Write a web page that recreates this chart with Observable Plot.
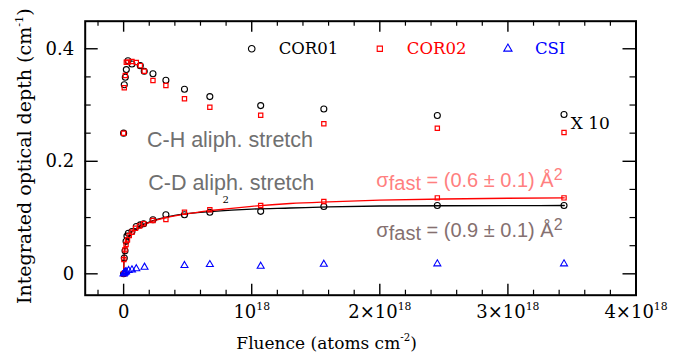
<!DOCTYPE html>
<html>
<head>
<meta charset="utf-8">
<script src="https://cdn.jsdelivr.net/npm/d3@7"></script>
<script src="https://cdn.jsdelivr.net/npm/@observablehq/plot@0.6"></script>
<style>
  html, body { margin: 0; padding: 0; background: #fff; }
  #chart { width: 691px; height: 358px; }
</style>
</head>
<body>
<div id="chart"></div>
<script>
// ---------- DATA (fluence in units of 1e18 atoms cm^-2) ----------
// C-H aliphatic stretch (x10), COR01
const chFluenceCOR01 = [0, 0.005, 0.013, 0.021, 0.034, 0.065, 0.13, 0.161, 0.229, 0.33, 0.475, 0.673, 1.07, 1.563, 2.449, 3.438];
const chDepthCOR01   = [0.25, 0.336, 0.3495, 0.363, 0.3787, 0.373, 0.370, 0.360, 0.3556, 0.344, 0.328, 0.315, 0.299, 0.293, 0.2814, 0.2832];
// C-H aliphatic stretch (x10), COR02
const chFluenceCOR02 = [0, 0.005, 0.013, 0.021, 0.034, 0.065, 0.099, 0.13, 0.161, 0.229, 0.33, 0.475, 0.673, 1.07, 1.563, 2.449, 3.438];
const chDepthCOR02   = [0.25, 0.3307, 0.3525, 0.376, 0.376, 0.3774, 0.3757, 0.370, 0.360, 0.3437, 0.3348, 0.311, 0.296, 0.282, 0.2667, 0.2589, 0.2512];
// C-D aliphatic stretch, COR01
const cdFluenceCOR01 = [0, 0.005, 0.011, 0.019, 0.026, 0.037, 0.065, 0.099, 0.13, 0.156, 0.229, 0.33, 0.475, 0.673, 1.07, 1.563, 2.449, 3.438];
const cdDepthCOR01   = [0, 0.028, 0.041, 0.058, 0.067, 0.072, 0.075, 0.084, 0.087, 0.089, 0.096, 0.105, 0.105, 0.1095, 0.111, 0.1196, 0.1214, 0.1214];
// C-D aliphatic stretch, COR02
const cdFluenceCOR02 = [0, 0.002, 0.011, 0.019, 0.03, 0.044, 0.065, 0.093, 0.125, 0.156, 0.229, 0.33, 0.475, 0.673, 1.07, 1.563, 2.449, 3.438];
const cdDepthCOR02   = [0, 0.0254, 0.0427, 0.052, 0.0604, 0.068, 0.074, 0.081, 0.085, 0.089, 0.0948, 0.0965, 0.1095, 0.1138, 0.1214, 0.1285, 0.135, 0.135];
// CSI
const fluenceCSI = [0, 0.003, 0.008, 0.013, 0.019, 0.039, 0.065, 0.099, 0.163, 0.475, 0.673, 1.07, 1.563, 2.449, 3.438];
const depthCSI   = [0, 0.001, 0.002, 0.003, 0.004, 0.006, 0.007, 0.009, 0.0118, 0.0148, 0.0165, 0.0135, 0.017, 0.0178, 0.0178];
// Fit curves
const fitFluence   = [0, 0.002, 0.005, 0.01, 0.02, 0.04, 0.07, 0.1, 0.15, 0.2, 0.3, 0.4, 0.5, 0.7, 1.0, 1.3, 1.6, 2.0, 2.5, 3.0, 3.44];
const fitDepthCOR01 = [0, 0.02, 0.033, 0.045, 0.057, 0.068, 0.076, 0.081, 0.087, 0.092, 0.099, 0.104, 0.107, 0.111, 0.115, 0.117, 0.119, 0.1205, 0.121, 0.1213, 0.1214];
const fitDepthCOR02 = [0, 0.02, 0.032, 0.044, 0.056, 0.067, 0.075, 0.08, 0.086, 0.091, 0.098, 0.103, 0.107, 0.113, 0.120, 0.125, 0.128, 0.131, 0.133, 0.1343, 0.135];

// Legend
const legendLabels  = ["COR01", "COR02", "CSI"];
const legendColors  = ["#000000", "#ff0000", "#0000ff"];
const legendSymbols = ["circle", "square", "triangle"];
const legendFluence = [1, 2, 3];
const legendDepth   = 0.4;

// Annotations
const annotTexts  = ["C-H aliph. stretch", "C-D aliph. stretch"];
const annotFluence = [0.182, 0.192];
const annotDepth   = [0.2373, 0.1616];
const sigmaTexts   = ["σ_{fast} = (0.6 ± 0.1) Å^{2}", "σ_{fast} = (0.9 ± 0.1) Å^{2}"];
const sigmaColors  = ["#ff7f7f", "#857070"];
const sigmaFluence = [1.973, 1.973];
const sigmaDepth   = [0.1653, 0.0764];
const scaleNote = "X 10", scaleNoteFluence = 3.49, scaleNoteDepth = 0.2674;
const stray = "2", strayFluence = 0.797, strayDepth = 0.132;

// Axes
const xMajor = [0, 1, 2, 3, 4];
const xMinor = d3.range(-0.2, 4.0, 0.2).filter(v => Math.abs(v - Math.round(v)) > 1e-6);
const xTickLabels = ["0", "10^{18}", "2×10^{18}", "3×10^{18}", "4×10^{18}"];
const yMajor = [0, 0.2, 0.4];
const yMinor = [0.05, 0.1, 0.15, 0.25, 0.3, 0.35];
const yTickLabels = ["0", "0.2", "0.4"];
const xTitle = "Fluence (atoms cm^{-2})";
const yTitle = "Integrated optical depth (cm^{-1})";

// ---------- BUILD ----------
const W = 691, H = 358;
const mL = 84.7, mR = 55.5, mT = 20.7, mB = 63.3;
const FW = W - mL - mR, FH = H - mT - mB;
const serif = "DejaVu Serif";
const sans = "Liberation Sans";
const zip = (xs, ys) => xs.map((x, i) => ({x, y: ys[i]}));

const plot = Plot.plot({
  width: W, height: H,
  marginLeft: mL, marginRight: mR, marginTop: mT, marginBottom: mB,
  x: {domain: [-0.3, 4], axis: null},
  y: {domain: [-0.038, 0.449], axis: null},
  style: {background: "white", overflow: "visible"},
  marks: [
    // fits
    Plot.line(zip(fitFluence, fitDepthCOR01), {x: "x", y: "y", stroke: "#000", strokeWidth: 1.3, curve: "monotone-x"}),
    Plot.line(zip(fitFluence, fitDepthCOR02), {x: "x", y: "y", stroke: "#ff0000", strokeWidth: 1.3, curve: "monotone-x"}),
    // points
    Plot.dot(zip(chFluenceCOR01, chDepthCOR01), {x: "x", y: "y", symbol: "circle", r: 3, stroke: "#000", strokeWidth: 1.1, fill: "none"}),
    Plot.dot(zip(cdFluenceCOR01, cdDepthCOR01), {x: "x", y: "y", symbol: "circle", r: 3, stroke: "#000", strokeWidth: 1.1, fill: "none"}),
    Plot.dot(zip(chFluenceCOR02, chDepthCOR02), {x: "x", y: "y", symbol: "square", r: 2.4, stroke: "#ff0000", strokeWidth: 1.2, fill: "none"}),
    Plot.dot(zip(cdFluenceCOR02, cdDepthCOR02), {x: "x", y: "y", symbol: "square", r: 2.4, stroke: "#ff0000", strokeWidth: 1.2, fill: "none"}),
    Plot.dot(zip(fluenceCSI, depthCSI), {x: "x", y: "y", symbol: "triangle", r: 2.6, stroke: "#0000ff", strokeWidth: 1.1, fill: "none"}),
    // frame & ticks
    Plot.frame({stroke: "#000", strokeWidth: 2}),
    Plot.tickX(xMajor, {x: d => d, insetTop: FH - 11, stroke: "#000", strokeWidth: 1.4}),
    Plot.tickX(xMajor, {x: d => d, insetBottom: FH - 11, stroke: "#000", strokeWidth: 1.4}),
    Plot.tickX(xMinor, {x: d => d, insetTop: FH - 5, stroke: "#000", strokeWidth: 1.2}),
    Plot.tickX(xMinor, {x: d => d, insetBottom: FH - 5, stroke: "#000", strokeWidth: 1.2}),
    Plot.tickY(yMajor, {y: d => d, insetRight: FW - 13, stroke: "#000", strokeWidth: 1.4}),
    Plot.tickY(yMajor, {y: d => d, insetLeft: FW - 13, stroke: "#000", strokeWidth: 1.4}),
    Plot.tickY(yMinor, {y: d => d, insetRight: FW - 6, stroke: "#000", strokeWidth: 1.2}),
    Plot.tickY(yMinor, {y: d => d, insetLeft: FW - 6, stroke: "#000", strokeWidth: 1.2}),
    // tick labels
    Plot.text(xMajor, {x: d => d, text: (d, i) => xTickLabels[i], frameAnchor: "bottom", dy: 17, fontFamily: serif, fontSize: 18, fill: "#000", textAnchor: "middle", lineAnchor: "middle"}),
    Plot.text(yMajor, {y: d => d, text: (d, i) => yTickLabels[i], frameAnchor: "left", dx: -11, textAnchor: "end", fontFamily: serif, fontSize: 18, fill: "#000", lineAnchor: "middle"}),
    // axis titles
    Plot.text([xTitle], {text: d => d, frameAnchor: "bottom", dy: 48, dx: -34, fontFamily: serif, fontSize: 17, fill: "#000", textAnchor: "middle", lineAnchor: "middle"}),
    Plot.text([yTitle], {text: d => d, frameAnchor: "left", dx: -60, dy: -2, rotate: -90, fontFamily: serif, fontSize: 19, fill: "#000", textAnchor: "middle", lineAnchor: "middle"}),
    // legend
    Plot.dot(legendLabels, {x: (d, i) => legendFluence[i], y: legendDepth, symbol: (d, i) => legendSymbols[i], stroke: (d, i) => legendColors[i], r: (d, i) => [3, 2.4, 2.6][i], strokeWidth: 1.1, fill: "none"}),
    Plot.text(legendLabels, {x: (d, i) => legendFluence[i], y: legendDepth, text: d => d, fill: (d, i) => legendColors[i], dx: 27, textAnchor: "start", fontFamily: serif, fontSize: 16.5, lineAnchor: "middle"}),
    // annotations
    Plot.text(annotTexts, {x: (d, i) => annotFluence[i], y: (d, i) => annotDepth[i], text: d => d, textAnchor: "start", fill: "#707070", fontFamily: sans, fontSize: 21.5, lineAnchor: "middle"}),
    Plot.text(sigmaTexts, {x: (d, i) => sigmaFluence[i], y: (d, i) => sigmaDepth[i], text: d => d, textAnchor: "start", fill: (d, i) => sigmaColors[i], fontFamily: sans, fontSize: 20, lineAnchor: "middle", className: "bigsup"}),
    Plot.text([scaleNote], {x: scaleNoteFluence, y: scaleNoteDepth, text: d => d, textAnchor: "start", fill: "#000", fontFamily: serif, fontSize: 17, lineAnchor: "middle"}),
    Plot.text([stray], {x: strayFluence, y: strayDepth, text: d => d, fill: "#000", fontFamily: serif, fontSize: 10, textAnchor: "middle", lineAnchor: "middle"})
  ]
});

document.getElementById("chart").appendChild(plot);

// rich text: ^{..} superscript, _{..} subscript
function richText(svg) {
  const NS = "http://www.w3.org/2000/svg";
  svg.querySelectorAll("text").forEach(t => {
    const s = t.textContent;
    if (!/[\^_]\{/.test(s)) return;
    const fs = parseFloat(getComputedStyle(t).fontSize) || 12;
    const big = !!t.closest(".bigsup");
    while (t.firstChild) t.removeChild(t.firstChild);
    const parts = [];
    const re = /([\^_])\{([^}]*)\}/g;
    let last = 0, m;
    while ((m = re.exec(s))) {
      if (m.index > last) parts.push({t: s.slice(last, m.index), k: ""});
      parts.push({t: m[2], k: m[1]});
      last = re.lastIndex;
    }
    if (last < s.length) parts.push({t: s.slice(last), k: ""});
    let off = 0;
    for (const p of parts) {
      const ts = document.createElementNS(NS, "tspan");
      ts.textContent = p.t;
      let target = 0;
      if (p.k === "^") { target = big ? -0.38 * fs : -0.45 * fs; ts.setAttribute("font-size", (big ? 0.8 : 0.6) * fs); }
      else if (p.k === "_") { target = 0.12 * fs; }
      const dy = target - off;
      if (dy) ts.setAttribute("dy", dy);
      off = target;
      t.appendChild(ts);
    }
  });
}
richText(plot);
</script>
</body>
</html>
